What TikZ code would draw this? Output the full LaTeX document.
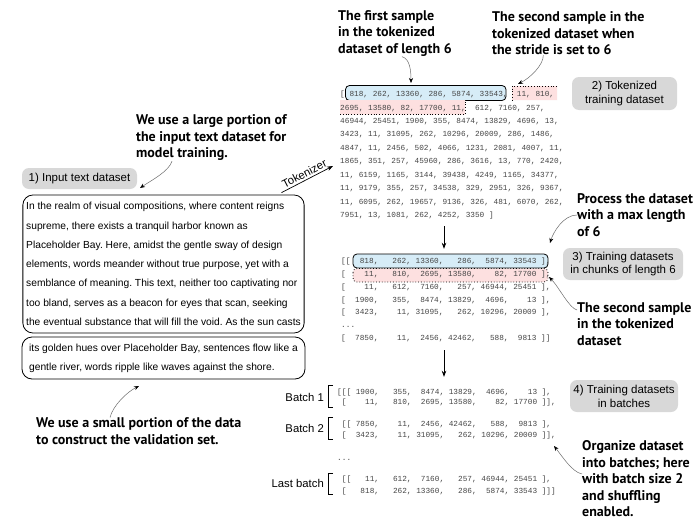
\documentclass[tikz,border=0pt]{standalone}
\usepackage{fontspec}
\setmainfont{Liberation Sans}
\setmonofont{Liberation Mono}
\newfontfamily\notefont{PT Sans}
\usetikzlibrary{arrows.meta}
\definecolor{TOKblue}{RGB}{214, 236, 247}
\definecolor{TOKred}{RGB}{253, 224, 224}
\definecolor{STAGEgray}{RGB}{216, 216, 216}
\definecolor{NUMgray}{RGB}{70, 70, 70}
\definecolor{HINTgray}{RGB}{110, 110, 110}
\newcommand\numdots{...}

\begin{document}
\begin{tikzpicture}[x=1pt,y=-1pt,
    num/.style={anchor=base west,inner sep=0pt,text=NUMgray,font=\ttfamily\fontsize{7.75}{9}\selectfont},
    note/.style={anchor=west,inner sep=0pt,align=left,font=\notefont\bfseries\fontsize{14}{16.5}\selectfont},
    stage/.style={fill=STAGEgray,rounded corners=7pt,align=center,font=\fontsize{11.5}{13.8}\selectfont},
    batchname/.style={anchor=east,inner sep=0pt,font=\fontsize{11.3}{13}\selectfont},
    pagebox/.style={draw,line width=0.8pt,rounded corners=10pt,align=left,font=\frenchspacing\fontsize{10.25}{19.3}\selectfont},
    flow/.style={-{Stealth[length=6pt,width=4.5pt]},line width=0.7pt},
    hint/.style={HINTgray,line width=0.5pt,-{Stealth[black,length=5pt,width=4pt]}}]
\fill[white] (0,0) rectangle (696,525);
\useasboundingbox (0,0) rectangle (696,525);

% highlighted samples
\draw[fill=TOKblue,rounded corners=4pt,line width=0.8pt] (345.5,85.5) rectangle (506,100.5);
\fill[TOKred] (512,86) rectangle (557,100) (340,100) rectangle (465,114.5);
\draw[dotted,line width=0.8pt] (557,86) -- (512,86) -- (512,100) (340,114.5) -- (465,114.5) -- (465,100);
\draw[fill=TOKblue,rounded corners=4pt,line width=0.8pt] (353,254) rectangle (548,268);
\draw[fill=TOKred,rounded corners=4pt,dotted,line width=0.8pt] (353,268.5) rectangle (548,282);

% input text, split into training and validation part
\node[stage,minimum width=115pt,minimum height=21pt] (inputds) at (79.5,178.5) {1) Input text dataset};
\node[pagebox,minimum width=281pt,minimum height=138pt] (train) at (163.5,264)
  {In the realm of visual compositions, where content reigns\\
   supreme, there exists a tranquil harbor known as\\
   Placeholder Bay. Here, amidst the gentle sway of design\\
   elements, words meander without true purpose, yet with a\\
   semblance of meaning. This text, neither too captivating nor\\
   too bland, serves as a beacon for eyes that scan, seeking\\
   the eventual substance that will fill the void. As the sun casts};
\node[pagebox,minimum width=283pt,minimum height=42pt] (val) at (163.5,358)
  {its golden hues over Placeholder Bay, sentences flow like a\\
   gentle river, words ripple like waves against the shore.};

% tokenized text
\foreach \row [count=\i] in {{[~818, 262, 13360, 286, 5874, 33543,~~11, 810,},
    {2695, 13580, 82, 17700, 11,~~612, 7160, 257,},
    {46944, 25451, 1900, 355, 8474, 13829, 4696, 13,},
    {3423, 11, 31095, 262, 10296, 20009, 286, 1486,},
    {4847, 11, 2456, 502, 4066, 1231, 2081, 4007, 11,},
    {1865, 351, 257, 45960, 286, 3616, 13, 770, 2420,},
    {11, 6159, 1165, 3144, 39438, 4249, 1165, 34377,},
    {11, 9179, 355, 257, 34538, 329, 2951, 326, 9367,},
    {11, 6095, 262, 19657, 9136, 326, 481, 6070, 262,},
    {7951, 13, 1081, 262, 4252, 3350 ]}}
  \node[num] (tok\i) at (340,{96.6+13.44*(\i-1)}) {\row};
\node[stage,minimum width=105pt,minimum height=33pt] (tokds) at (624.5,93.5) {2) Tokenized\\training dataset};

% chunks of length 6
\foreach \row [count=\i] in {{[[~~818,~~~262,~13360,~~~286,~~5874,~33543~],},
    {[~~~~11,~~~810,~~2695,~13580,~~~~82,~17700~],},
    {[~~~~11,~~~612,~~7160,~~~257,~46944,~25451~],},
    {[~~1900,~~~355,~~8474,~13829,~~4696,~~~~13~],},
    {[~~3423,~~~~11,~31095,~~~262,~10296,~20009~],},
    {\numdots},
    {[~~7850,~~~~11,~~2456,~42462,~~~588,~~9813~]]}}
  \node[num] (chk\i) at (341,{263.6+12.83*(\i-1)}) {\row};
\node[stage,minimum width=120pt,minimum height=32pt] (chunkds) at (623,264) {3) Training datasets\\in chunks of length 6};

% batches
\node[num] (bat1) at (337,394.6) {[[[~1900,~~~355,~~8474,~13829,~~4696,~~~~13~],};
\node[num] (bat2) at (337,404.8) {~[~~~~11,~~~810,~~2695,~13580,~~~~82,~17700~]],};
\node[num] (bat3) at (337,426.6) {~[[~7850,~~~~11,~~2456,~42462,~~~588,~~9813~],};
\node[num] (bat4) at (337,437.6) {~[~~3423,~~~~11,~31095,~~~262,~10296,~20009~]],};
\node[num] (batdots) at (337,460.6) {\numdots};
\node[num] (bat5) at (337,481.6) {~[[~~~11,~~~612,~~7160,~~~257,~46944,~25451~],};
\node[num] (bat6) at (337,493.6) {~[~~~818,~~~262,~13360,~~~286,~~5874,~33543~]]]};
\node[batchname] (first) at (324,397) {Batch 1};
\node[batchname] (second) at (324,428) {Batch 2};
\node[batchname] (last) at (324,483) {Last batch};
\foreach \t/\b in {385/407,417/439,473/494}
  \draw[line width=0.9pt] (333,\t) -| (328,\b) -- (333,\b);
\node[stage,minimum width=108pt,minimum height=32pt] (batchds) at (624,396) {4) Training datasets\\in batches};

% flow arrows
\coordinate (colx) at (444,0);
\coordinate (tokin) at (333,166);
\draw[flow] ([xshift=-23pt,yshift=2pt]train.north east) -- (tokin)
  node[midway,above,sloped,inner sep=2pt,font=\fontsize{11.3}{13}\selectfont] (tokname) {Tokenizer};
\draw[flow,shorten <=7pt,shorten >=9pt] (tok10.south -| colx) -- (chk1.north -| colx);
\draw[flow,shorten <=8pt,shorten >=12pt] (chk7.south -| colx) -- (bat1.north -| colx);

% annotations
\node[note] (nfirst) at (338,33.5) {The first sample\\in the tokenized\\dataset of length 6};
\node[note] (nsecond) at (492,33.5) {The second sample in the\\tokenized dataset when\\the stride is set to 6};
\node[note] (nlarge) at (136,138) {We use a large portion of\\the input text dataset for\\model training.};
\node[note] (nsmall) at (36,431) {We use a small portion of the data\\to construct the validation set.};
\node[note] (nprocess) at (577,215) {Process the dataset\\with a max length\\of 6};
\node[note] (nsecchunk) at (577,324) {The second sample\\in the tokenized\\dataset};
\node[note] (norganize) at (582,479) {Organize dataset\\into batches; here\\with batch size 2\\and shuffling\\enabled.};
\coordinate (pfirst) at (411,83);
\coordinate (psecond) at (518,84);
\coordinate (plarge) at (140,188);
\coordinate (psmall) at (139,386);
\coordinate (pprocess) at (550,243);
\coordinate (psecchunk) at (549,277);
\coordinate (porganize) at (554,446);
\draw[hint] ([xshift=7pt]nfirst.south) .. controls +(8,2) and +(0,-12) .. (pfirst);
\draw[hint] ([xshift=-25pt]nsecond.south) .. controls +(0,10) and +(12,-6) .. (psecond);
\draw[hint] ([xshift=36pt]nlarge.south west) .. controls +(-3,10) and +(12,-8) .. (plarge);
\draw[hint] ([xshift=74pt]nsmall.north west) .. controls +(3,-12) and +(-12,6) .. (psmall);
\draw[hint] (nprocess.west) .. controls +(-14,0) and +(3,-10) .. (pprocess);
\draw[hint] ([yshift=14pt]nsecchunk.west) .. controls +(-8,-2) and +(10,10) .. (psecchunk);
\draw[hint] ([yshift=5pt]norganize.west) .. controls +(-10,-2) and +(8,10) .. (porganize);
\end{tikzpicture}
\end{document}
